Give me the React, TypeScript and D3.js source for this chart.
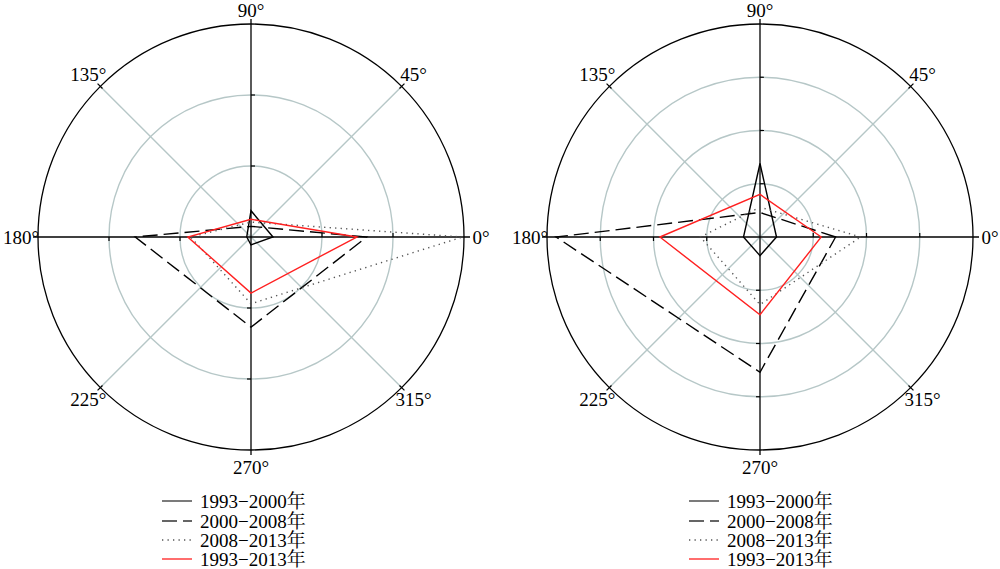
import React from "react";
import * as d3 from "d3";

// Directions (degrees, counter-clockwise from east)
const directions = [0, 90, 180, 270];
const angleLabels = [0, 45, 90, 135, 180, 225, 270, 315];
const seriesNames = ["1993−2000年", "2000−2008年", "2008−2013年", "1993−2013年"];

// Left chart values per direction [0°, 90°, 180°, 270°]
const leftS1 = [0.31, 0.37, 0.06, 0.11];
const leftS2 = [1.63, 0.15, 1.63, 1.27];
const leftS3 = [2.98, 0.21, 0.85, 0.94];
const leftS4 = [1.49, 0.25, 0.89, 0.79];
const leftRings = [1, 2, 3];

// Right chart values per direction [0°, 90°, 180°, 270°]
const rightS1 = [0.31, 1.38, 0.31, 0.35];
const rightS2 = [1.42, 0.46, 3.83, 2.54];
const rightS3 = [1.89, 0.56, 1.12, 1.27];
const rightS4 = [1.15, 0.80, 1.88, 1.46];
const rightRings = [1, 2, 3, 4];

const styles = [
  { stroke: "#000", dash: null as string | null, width: 1.4, legend: "#333" },
  { stroke: "#000", dash: "15,6", width: 1.4, legend: "#333" },
  { stroke: "#555", dash: "1.3,4.2", width: 1.4, legend: "#555" },
  { stroke: "#ff2020", dash: null as string | null, width: 1.4, legend: "#ff2020" },
];

const FONT = "'Liberation Serif', 'Times New Roman', 'Noto Serif CJK SC', 'Noto Sans CJK SC', serif";
const GRID = "#b6c7c7";

function Polar({ cx, cy, R, rings, series, legendX }: { cx: number; cy: number; R: number; rings: number[]; series: number[][]; legendX: number }) {
  const maxV = rings[rings.length - 1];
  const r = d3.scaleLinear().domain([0, maxV]).range([0, R]);
  const rad = (deg: number) => (deg * Math.PI) / 180;
  const px = (deg: number, rr: number) => cx + rr * Math.cos(rad(deg));
  const py = (deg: number, rr: number) => cy - rr * Math.sin(rad(deg));
  const line = d3
    .lineRadial<[number, number]>()
    .angle((d) => Math.PI / 2 - rad(d[0]))
    .radius((d) => r(d[1]))
    .curve(d3.curveLinearClosed);

  const innerRings = rings.slice(0, -1);
  const tickLen = 4;
  const legendRows = [501, 521, 540, 559];

  return (
    <g>
      {/* grid circles */}
      {innerRings.map((v) => (
        <circle key={"c" + v} cx={cx} cy={cy} r={r(v)} fill="none" stroke={GRID} strokeWidth={1.4} />
      ))}
      {/* diagonal spokes */}
      {[45, 135, 225, 315].map((a) => (
        <line key={"s" + a} x1={cx} y1={cy} x2={px(a, R)} y2={py(a, R)} stroke={GRID} strokeWidth={1.4} />
      ))}
      {/* outer circle */}
      <circle cx={cx} cy={cy} r={R} fill="none" stroke="#000" strokeWidth={1.3} />
      {/* main axes */}
      <line x1={cx - R - 5} y1={cy} x2={cx + R + 6} y2={cy} stroke="#000" strokeWidth={1.3} />
      <line x1={cx} y1={cy - R - 5} x2={cx} y2={cy + R + 5} stroke="#000" strokeWidth={1.3} />
      {/* outer angle ticks */}
      {[45, 135, 225, 315].map((a) => (
        <line key={"ot" + a} x1={px(a, R - 3)} y1={py(a, R - 3)} x2={px(a, R + 4)} y2={py(a, R + 4)} stroke="#000" strokeWidth={1.2} />
      ))}
      {/* radial ticks on axes */}
      {innerRings.map((v) => (
        <g key={"t" + v}>
          <line x1={cx + r(v)} y1={cy} x2={cx + r(v)} y2={cy - tickLen} stroke="#000" strokeWidth={1.2} />
          <line x1={cx - r(v)} y1={cy} x2={cx - r(v)} y2={cy + tickLen} stroke="#000" strokeWidth={1.2} />
          <line x1={cx} y1={cy - r(v)} x2={cx + tickLen} y2={cy - r(v)} stroke="#000" strokeWidth={1.2} />
          <line x1={cx} y1={cy + r(v)} x2={cx - tickLen} y2={cy + r(v)} stroke="#000" strokeWidth={1.2} />
        </g>
      ))}
      {/* data */}
      <g transform={`translate(${cx},${cy})`}>
        {series.map((vals, i) => (
          <path
            key={"d" + i}
            d={line(directions.map((a, k) => [a, vals[k]] as [number, number])) || ""}
            fill="none"
            stroke={styles[i].stroke}
            strokeWidth={styles[i].width}
            strokeDasharray={styles[i].dash || undefined}
            strokeLinejoin="miter"
          />
        ))}
      </g>
      {/* angle labels */}
      {angleLabels.map((a) => {
        const off = a === 90 ? R + 14 : R + 17;
        return (
          <text
            key={"l" + a}
            x={px(a, off)}
            y={py(a, off)}
            textAnchor="middle"
            dominantBaseline="central"
            fontFamily={FONT}
            fontSize={19}
            fill="#000"
          >
            {a}°
          </text>
        );
      })}
      {/* legend */}
      {seriesNames.map((name, i) => (
        <g key={"lg" + i}>
          <line
            x1={legendX}
            y1={legendRows[i]}
            x2={legendX + 30}
            y2={legendRows[i]}
            stroke={styles[i].legend}
            strokeWidth={1.3}
            strokeDasharray={styles[i].dash || undefined}
          />
          <text x={legendX + 38} y={legendRows[i]} dominantBaseline="central" fontFamily={FONT} fontSize={19} fill="#000">
            {name}
          </text>
        </g>
      ))}
    </g>
  );
}

export default function App() {
  return (
    <svg width={1000} height={569} style={{ position: "absolute", left: 0, top: 0, background: "#fff" }}>
      <rect width={1000} height={569} fill="#fff" />
      <Polar cx={251} cy={237} R={213} rings={leftRings} series={[leftS1, leftS2, leftS3, leftS4]} legendX={162} />
      <Polar cx={760} cy={237} R={213} rings={rightRings} series={[rightS1, rightS2, rightS3, rightS4]} legendX={689} />
    </svg>
  );
}
